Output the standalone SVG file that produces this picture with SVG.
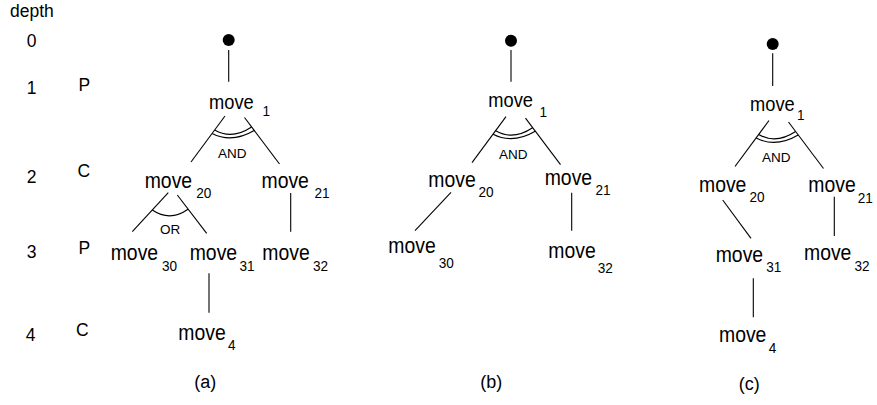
<svg xmlns="http://www.w3.org/2000/svg" width="877" height="405" viewBox="0 0 877 405">
<style>
text{font-family:"Liberation Sans",Arial,Helvetica,sans-serif;fill:#000}
.mv{font-size:19.4px}
.mv1{font-size:18.3px}
.sb{font-size:13.6px}
.lbl{font-size:17.5px}
.dg{font-size:17.5px;text-anchor:middle}
.and{font-size:13.5px;text-anchor:middle}
.cap{font-size:18px;text-anchor:middle}
.c line,.c path{stroke:#000;stroke-width:1.1;fill:none}
.dot{fill:#000}
</style>
<rect width="877" height="405" fill="#fff"/>

<g id="depth-col">
<text class="lbl" x="10" y="17">depth</text>
<text class="dg" x="31.5" y="46.7">0</text>
<text class="dg" x="31.5" y="94.3">1</text>
<text class="dg" x="31.5" y="182.7">2</text>
<text class="dg" x="31.5" y="258.3">3</text>
<text class="dg" x="30.5" y="340.7">4</text>
<text class="lbl" x="78.6" y="90.7">P</text>
<text class="lbl" x="77.5" y="176.7">C</text>
<text class="lbl" x="78.6" y="254">P</text>
<text class="lbl" x="76" y="336">C</text>
</g>

<g class="c" id="connectors">
<!-- panel a -->
<line x1="228.7" y1="50" x2="228.7" y2="81.7"/>
<g transform="translate(225,116)">
<line x1="0" y1="0" x2="-34" y2="46"/>
<line x1="19.5" y1="1.5" x2="54.5" y2="48"/>
<path d="M-10.3,14 Q6.9,24.1 26.6,11"/>
<path d="M-12.9,17.5 Q6.9,27.6 29.2,14.5"/>
</g>
<line x1="168.3" y1="192.7" x2="132.3" y2="231.7"/>
<line x1="177.3" y1="195" x2="206.7" y2="233.3"/>
<path d="M152.3,210 Q170,222 188,209.3"/>
<line x1="290.7" y1="193" x2="290.7" y2="231.7"/>
<line x1="209" y1="273.3" x2="209" y2="312.7"/>
<!-- panel b -->
<line x1="511" y1="50" x2="511" y2="81.7"/>
<g transform="translate(506,116.7)">
<line x1="0" y1="0" x2="-34" y2="46"/>
<line x1="19.5" y1="1.5" x2="54.5" y2="48"/>
<path d="M-10.3,14 Q6.9,24.1 26.6,11"/>
<path d="M-12.9,17.5 Q6.9,27.6 29.2,14.5"/>
</g>
<line x1="451" y1="192.3" x2="415" y2="230.7"/>
<line x1="571.7" y1="192.7" x2="571.7" y2="230.7"/>
<!-- panel c -->
<line x1="772.7" y1="53.3" x2="772.7" y2="86"/>
<g transform="translate(769,120.5)">
<line x1="0" y1="0" x2="-34" y2="46"/>
<line x1="19.5" y1="1.5" x2="54.5" y2="48"/>
<path d="M-10.3,14 Q6.9,24.1 26.6,11"/>
<path d="M-12.9,17.5 Q6.9,27.6 29.2,14.5"/>
</g>
<line x1="722.7" y1="200" x2="751" y2="238.3"/>
<line x1="834.3" y1="196.7" x2="834.3" y2="236"/>
<line x1="753.3" y1="278.3" x2="753.3" y2="317.3"/>
</g>

<g id="connector-labels">
<text class="and" x="232.2" y="157.8">AND</text>
<text class="and" x="170.2" y="234">OR</text>
<text class="and" x="513.2" y="158.5">AND</text>
<text class="and" x="776.2" y="162.3">AND</text>
</g>

<!-- panel a nodes -->
<g id="a-root"><circle class="dot" cx="228.7" cy="40" r="6"/></g>
<g id="a-move1" transform="translate(209,109) scale(1,1.1)"><text class="mv1">move</text><text class="sb" x="53.5" y="6.4">1</text></g>
<g id="a-move20" transform="translate(144.7,188.3) scale(1,1.1)"><text class="mv">move</text><text class="sb" x="51.5" y="9.1">20</text></g>
<g id="a-move21" transform="translate(261.5,188) scale(1,1.1)"><text class="mv">move</text><text class="sb" x="53" y="9.1">21</text></g>
<g id="a-move30" transform="translate(110.7,260) scale(1,1.1)"><text class="mv">move</text><text class="sb" x="51.3" y="10">30</text></g>
<g id="a-move31" transform="translate(189.7,260) scale(1,1.1)"><text class="mv">move</text><text class="sb" x="49.8" y="10">31</text></g>
<g id="a-move32" transform="translate(262.3,260) scale(1,1.1)"><text class="mv">move</text><text class="sb" x="50.7" y="10">32</text></g>
<g id="a-move4" transform="translate(178.3,340) scale(1,1.1)"><text class="mv">move</text><text class="sb" x="49.7" y="9.1">4</text></g>
<text class="cap" x="205.3" y="388">(a)</text>

<!-- panel b nodes -->
<g id="b-root"><circle class="dot" cx="511" cy="40.7" r="6"/></g>
<g id="b-move1" transform="translate(488.3,107.3) scale(1,1.1)"><text class="mv1">move</text><text class="sb" x="51.3" y="8.5">1</text></g>
<g id="b-move20" transform="translate(428.3,186.7) scale(1,1.1)"><text class="mv">move</text><text class="sb" x="50.2" y="9.1">20</text></g>
<g id="b-move21" transform="translate(544.7,185) scale(1,1.1)"><text class="mv">move</text><text class="sb" x="50.8" y="9.1">21</text></g>
<g id="b-move30" transform="translate(388.3,253.3) scale(1,1.1)"><text class="mv">move</text><text class="sb" x="50.5" y="13">30</text></g>
<g id="b-move32" transform="translate(548.3,258.3) scale(1,1.1)"><text class="mv">move</text><text class="sb" x="49.5" y="13">32</text></g>
<text class="cap" x="491.3" y="388">(b)</text>

<!-- panel c nodes -->
<g id="c-root"><circle class="dot" cx="772.7" cy="44" r="6"/></g>
<g id="c-move1" transform="translate(750,110.7) scale(1,1.1)"><text class="mv1">move</text><text class="sb" x="47" y="8.5">1</text></g>
<g id="c-move20" transform="translate(699,191.7) scale(1,1.1)"><text class="mv">move</text><text class="sb" x="50.5" y="9.1">20</text></g>
<g id="c-move21" transform="translate(808.3,191.7) scale(1,1.1)"><text class="mv">move</text><text class="sb" x="49.5" y="10">21</text></g>
<g id="c-move31" transform="translate(715.7,261.7) scale(1,1.1)"><text class="mv">move</text><text class="sb" x="50.5" y="9.1">31</text></g>
<g id="c-move32" transform="translate(804,260) scale(1,1.1)"><text class="mv">move</text><text class="sb" x="50.5" y="9.7">32</text></g>
<g id="c-move4" transform="translate(719,341.7) scale(1,1.1)"><text class="mv">move</text><text class="sb" x="49.8" y="10.5">4</text></g>
<text class="cap" x="749.2" y="390">(c)</text>
</svg>
